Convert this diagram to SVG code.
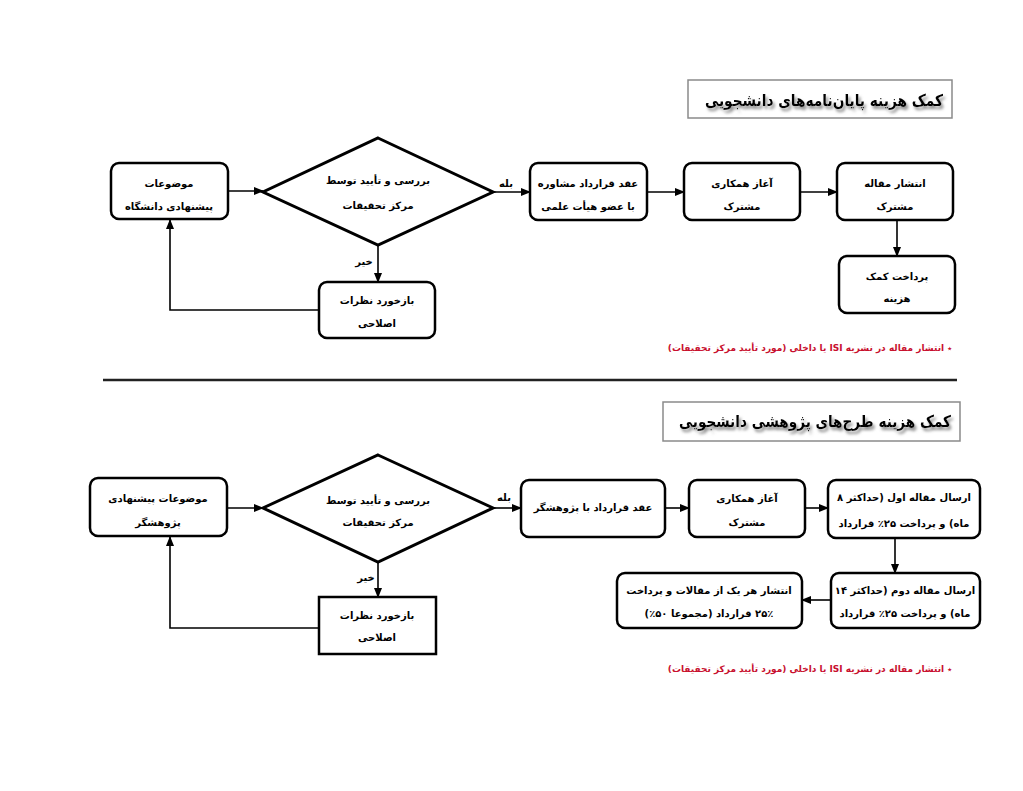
<svg xmlns="http://www.w3.org/2000/svg" width="1023" height="791" viewBox="0 0 1023 791">
<defs>
<style>
.box{fill:#fff;stroke:#000;stroke-width:2.5}
.dia{fill:#fff;stroke:#000;stroke-width:3}
.ln{fill:none;stroke:#000;stroke-width:1.6}
.t{font-family:"DejaVu Sans",sans-serif;font-weight:bold;font-size:10px;fill:#000;text-anchor:middle;direction:rtl;unicode-bidi:embed}
.lbl{font-family:"DejaVu Sans",sans-serif;font-weight:bold;font-size:10px;fill:#000;text-anchor:middle;direction:rtl}
.title{font-family:"DejaVu Sans",sans-serif;font-weight:bold;font-size:16px;fill:#000;text-anchor:middle;direction:rtl;unicode-bidi:embed}
.tbox{fill:#fff;stroke:#8a8a8a;stroke-width:1.5}
.note{font-family:"DejaVu Sans",sans-serif;font-weight:bold;font-size:9px;fill:#c8102e;text-anchor:middle;direction:rtl;unicode-bidi:embed}
</style>
<marker id="ah" markerUnits="userSpaceOnUse" markerWidth="10" markerHeight="10" viewBox="0 0 10 10" refX="9" refY="5" orient="auto">
<path d="M0,1 L10,5 L0,9 Z" fill="#000"/>
</marker>
<filter id="sh" x="-10%" y="-30%" width="120%" height="170%">
<feGaussianBlur in="SourceAlpha" stdDeviation="1.6"/>
<feOffset dx="1.5" dy="2.5" result="b"/>
<feFlood flood-color="#888"/>
<feComposite in2="b" operator="in"/>
<feMerge><feMergeNode/><feMergeNode in="SourceGraphic"/></feMerge>
</filter>
</defs>
<rect width="1023" height="791" fill="#fff"/>

<!-- Section 1 -->
<g id="title1">
<rect class="tbox" x="688" y="80" width="264" height="38"/>
<text class="title" x="824" y="106" textLength="238" lengthAdjust="spacingAndGlyphs" filter="url(#sh)">کمک هزینه پایان‌نامه‌های دانشجویی</text>
</g>

<g id="connectors">
<polyline class="ln" points="228,191 263,191" marker-end="url(#ah)"/>
<polyline class="ln" points="378,245 378,282" marker-end="url(#ah)"/>
<polyline class="ln" points="319,310 170,310 170,220" marker-end="url(#ah)"/>
<polyline class="ln" points="493,192 530,192" marker-end="url(#ah)"/>
<polyline class="ln" points="647,192 684,192" marker-end="url(#ah)"/>
<polyline class="ln" points="800,192 837,192" marker-end="url(#ah)"/>
<polyline class="ln" points="897,220 897,256" marker-end="url(#ah)"/>
<text class="lbl" x="506" y="187">بله</text>
<text class="lbl" x="364" y="265">خیر</text>

<polyline class="ln" points="227,508 263,508" marker-end="url(#ah)"/>
<polyline class="ln" points="378,562 378,597" marker-end="url(#ah)"/>
<polyline class="ln" points="319,628 170,628 170,537" marker-end="url(#ah)"/>
<polyline class="ln" points="493,508 521,508" marker-end="url(#ah)"/>
<polyline class="ln" points="665,508 689,508" marker-end="url(#ah)"/>
<polyline class="ln" points="805,508 828,508" marker-end="url(#ah)"/>
<polyline class="ln" points="895,538 895,573" marker-end="url(#ah)"/>
<polyline class="ln" points="831,600 802,600" marker-end="url(#ah)"/>
<text class="lbl" x="504" y="501">بله</text>
<text class="lbl" x="366" y="581">خیر</text>
</g>

<g id="n1a">
<rect class="box" x="111" y="163" width="117" height="56" rx="8"/>
<text class="t" x="169" y="187">موضوعات</text>
<text class="t" x="169" y="210">پیشنهادی دانشگاه</text>
</g>
<g id="n1b">
<polygon class="dia" points="378,138 493,192 378,245 263,192"/>
<text class="t" x="378" y="184">بررسی و تأیید توسط</text>
<text class="t" x="378" y="209">مرکز تحقیقات</text>
</g>
<g id="n1c">
<rect class="box" x="319" y="282" width="116" height="56" rx="8"/>
<text class="t" x="377" y="304">بازخورد نظرات</text>
<text class="t" x="377" y="327">اصلاحی</text>
</g>
<g id="n1d">
<rect class="box" x="530" y="163" width="117" height="57" rx="8"/>
<text class="t" x="588" y="187">عقد قرارداد مشاوره</text>
<text class="t" x="588" y="210">با عضو هیأت علمی</text>
</g>
<g id="n1e">
<rect class="box" x="684" y="163" width="116" height="57" rx="8"/>
<text class="t" x="742" y="187">آغاز همکاری</text>
<text class="t" x="742" y="210">مشترک</text>
</g>
<g id="n1f">
<rect class="box" x="837" y="163" width="116" height="57" rx="8"/>
<text class="t" x="895" y="187">انتشار مقاله</text>
<text class="t" x="895" y="210">مشترک</text>
</g>
<g id="n1g">
<rect class="box" x="839" y="256" width="116" height="57" rx="8"/>
<text class="t" x="897" y="280">پرداخت کمک</text>
<text class="t" x="897" y="302">هزینه</text>
</g>
<text class="note" x="810" y="351">٭ انتشار مقاله در نشریه ISI یا داخلی (مورد تأیید مرکز تحقیقات)</text>

<line x1="103" y1="380" x2="957" y2="380" stroke="#222" stroke-width="2.5"/>

<!-- Section 2 -->
<g id="title2">
<rect class="tbox" x="663" y="402" width="297" height="39"/>
<text class="title" x="815" y="427" textLength="272" lengthAdjust="spacingAndGlyphs" filter="url(#sh)">کمک هزینه طرح‌های پژوهشی دانشجویی</text>
</g>
<g id="n2a">
<rect class="box" x="90" y="478" width="137" height="58" rx="8"/>
<text class="t" x="158" y="502">موضوعات پیشنهادی</text>
<text class="t" x="158" y="526">پژوهشگر</text>
</g>
<g id="n2b">
<polygon class="dia" points="378,455 493,508 378,562 263,508"/>
<text class="t" x="378" y="504">بررسی و تأیید توسط</text>
<text class="t" x="378" y="526">مرکز تحقیقات</text>
</g>
<g id="n2c">
<rect class="box" x="319" y="597" width="117" height="57"/>
<text class="t" x="377" y="619">بازخورد نظرات</text>
<text class="t" x="377" y="641">اصلاحی</text>
</g>
<g id="n2d">
<rect class="box" x="521" y="480" width="144" height="57" rx="8"/>
<text class="t" x="593" y="511">عقد قرارداد با پژوهشگر</text>
</g>
<g id="n2e">
<rect class="box" x="689" y="480" width="116" height="57" rx="8"/>
<text class="t" x="747" y="502">آغاز همکاری</text>
<text class="t" x="747" y="526">مشترک</text>
</g>
<g id="n2f">
<rect class="box" x="828" y="480" width="152" height="58" rx="8"/>
<text class="t" x="904" y="501">ارسال مقاله اول (حداکثر ۸</text>
<text class="t" x="904" y="527">ماه) و پرداخت ۲۵٪ قرارداد</text>
</g>
<g id="n2g">
<rect class="box" x="831" y="573" width="149" height="55" rx="8"/>
<text class="t" x="905" y="594">ارسال مقاله دوم (حداکثر ۱۴</text>
<text class="t" x="905" y="617">ماه) و پرداخت ۲۵٪ قرارداد</text>
</g>
<g id="n2h">
<rect class="box" x="617" y="573" width="185" height="55" rx="8"/>
<text class="t" x="709" y="594">انتشار هر یک از مقالات و پرداخت</text>
<text class="t" x="709" y="617">۲۵٪ قرارداد (مجموعا ۵۰٪)</text>
</g>
<text class="note" x="810" y="672">٭ انتشار مقاله در نشریه ISI یا داخلی (مورد تأیید مرکز تحقیقات)</text>
</svg>
